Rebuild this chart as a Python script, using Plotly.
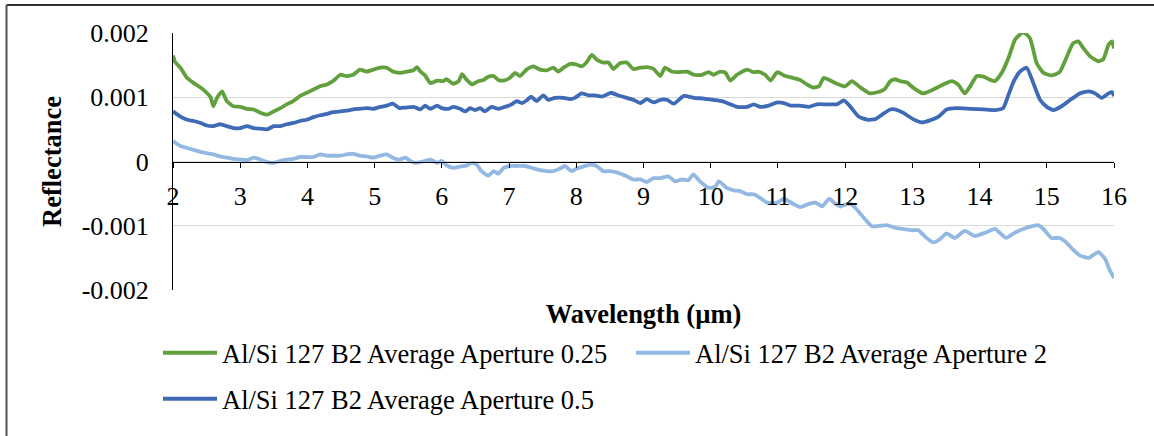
import plotly.graph_objects as go

# ---- Spectra: reflectance vs wavelength (µm) ----
wl_025 = [2.00, 2.03, 2.11, 2.21, 2.31, 2.41, 2.50, 2.56, 2.60, 2.65, 2.70, 2.73, 2.80, 2.90, 3.00,
          3.10, 3.20, 3.30, 3.40, 3.50, 3.60, 3.69, 3.79, 3.89, 3.99, 4.09, 4.19, 4.29, 4.38, 4.49,
          4.58, 4.68, 4.78, 4.88, 4.98, 5.08, 5.18, 5.27, 5.37, 5.48, 5.58, 5.63, 5.68, 5.75, 5.83,
          5.93, 6.02, 6.07, 6.17, 6.25, 6.30, 6.37, 6.45, 6.54, 6.62, 6.69, 6.77, 6.84, 6.92, 7.01,
          7.09, 7.16, 7.26, 7.36, 7.46, 7.56, 7.66, 7.73, 7.81, 7.91, 8.00, 8.08, 8.15, 8.23, 8.30,
          8.40, 8.48, 8.55, 8.65, 8.75, 8.85, 8.95, 9.05, 9.15, 9.25, 9.32, 9.42, 9.52, 9.65, 9.75,
          9.87, 9.97, 10.04, 10.14, 10.22, 10.29, 10.39, 10.54, 10.64, 10.71, 10.81, 10.89, 10.99,
          11.09, 11.23, 11.33, 11.43, 11.53, 11.61, 11.68, 11.78, 11.88, 12.00, 12.10, 12.23, 12.37,
          12.52, 12.60, 12.67, 12.74, 12.82, 12.92, 13.01, 13.16, 13.31, 13.46, 13.59, 13.68, 13.78,
          13.86, 13.96, 14.06, 14.16, 14.23, 14.33, 14.43, 14.53, 14.65, 14.75, 14.85, 14.95, 15.07,
          15.19, 15.29, 15.39, 15.47, 15.54, 15.64, 15.77, 15.84, 15.92, 15.97, 16.00]
refl_025 = [0.00165, 0.00155, 0.00146, 0.00130, 0.00122, 0.00115, 0.00107, 0.00100, 0.00086, 0.00098,
            0.00106, 0.00109, 0.00094, 0.00086, 0.00085, 0.00082, 0.00081, 0.00076, 0.00073, 0.00078,
            0.00083, 0.00089, 0.00094, 0.00102, 0.00107, 0.00112, 0.00117, 0.00120, 0.00125, 0.00135,
            0.00133, 0.00135, 0.00143, 0.00140, 0.00143, 0.00146, 0.00146, 0.00140, 0.00138, 0.00140,
            0.00142, 0.00147, 0.00140, 0.00134, 0.00122, 0.00126, 0.00125, 0.00128, 0.00121, 0.00125,
            0.00136, 0.00127, 0.00120, 0.00125, 0.00127, 0.00132, 0.00133, 0.00127, 0.00126, 0.00130,
            0.00138, 0.00133, 0.00143, 0.00148, 0.00143, 0.00142, 0.00146, 0.00140, 0.00146, 0.00152,
            0.00151, 0.00148, 0.00154, 0.00166, 0.00159, 0.00154, 0.00154, 0.00144, 0.00153, 0.00154,
            0.00144, 0.00146, 0.00147, 0.00144, 0.00133, 0.00146, 0.00140, 0.00139, 0.00140, 0.00135,
            0.00135, 0.00139, 0.00135, 0.00140, 0.00138, 0.00126, 0.00135, 0.00143, 0.00139, 0.00140,
            0.00135, 0.00126, 0.00139, 0.00134, 0.00130, 0.00127, 0.00120, 0.00115, 0.00117, 0.00130,
            0.00126, 0.00121, 0.00117, 0.00125, 0.00115, 0.00106, 0.00109, 0.00114, 0.00125, 0.00128,
            0.00125, 0.00123, 0.00115, 0.00106, 0.00112, 0.00120, 0.00125, 0.00120, 0.00106, 0.00117,
            0.00133, 0.00132, 0.00127, 0.00125, 0.00138, 0.00161, 0.00190, 0.00201, 0.00192, 0.00153,
            0.00138, 0.00134, 0.00139, 0.00161, 0.00184, 0.00187, 0.00177, 0.00164, 0.00156, 0.00159,
            0.00182, 0.00187, 0.00176]

wl_2 = [2.00, 2.11, 2.21, 2.31, 2.41, 2.50, 2.60, 2.70, 2.80, 2.90, 3.00, 3.10, 3.20, 3.30, 3.40,
        3.50, 3.60, 3.69, 3.79, 3.89, 3.99, 4.09, 4.19, 4.29, 4.38, 4.49, 4.58, 4.68, 4.78, 4.88,
        4.98, 5.08, 5.18, 5.27, 5.37, 5.46, 5.53, 5.60, 5.68, 5.75, 5.83, 5.93, 6.00, 6.07, 6.17,
        6.27, 6.37, 6.45, 6.52, 6.59, 6.69, 6.77, 6.84, 6.92, 7.01, 7.11, 7.24, 7.34, 7.44, 7.56,
        7.66, 7.76, 7.83, 7.93, 8.01, 8.10, 8.22, 8.30, 8.40, 8.50, 8.60, 8.75, 8.85, 8.95, 9.05,
        9.15, 9.25, 9.37, 9.47, 9.57, 9.67, 9.74, 9.84, 9.97, 10.07, 10.12, 10.24, 10.34, 10.44,
        10.54, 10.64, 10.74, 10.84, 10.99, 11.09, 11.21, 11.33, 11.46, 11.56, 11.66, 11.76, 11.86,
        11.93, 12.00, 12.08, 12.15, 12.28, 12.40, 12.52, 12.62, 12.74, 12.86, 12.99, 13.09, 13.19,
        13.31, 13.41, 13.51, 13.63, 13.78, 13.93, 14.08, 14.23, 14.30, 14.40, 14.52, 14.65, 14.77,
        14.87, 14.95, 15.07, 15.19, 15.27, 15.39, 15.49, 15.62, 15.77, 15.87, 15.94, 16.00]
refl_2 = [0.00032, 0.00024, 0.00021, 0.00018, 0.00015, 0.00013, 0.00011, 0.00008, 0.00006, 0.00004,
          0.00003, 0.00002, 0.00006, 0.00003, -0.00001, -0.00002, 0.00001, 0.00003, 0.00004, 0.00007,
          0.00007, 0.00007, 0.00011, 0.00009, 0.00009, 0.00009, 0.00011, 0.00012, 0.00009, 0.00008,
          0.00006, 0.00009, 0.00011, 0.00006, 0.00003, 0.00006, 0.00001, -0.00002, -0.00001, 0.00001,
          0.00003, -0.00002, 0.00001, -0.00006, -0.00010, -0.00008, -0.00006, -0.00002, -0.00005,
          -0.00015, -0.00022, -0.00015, -0.00019, -0.00010, -0.00007, -0.00007, -0.00007, -0.00010,
          -0.00013, -0.00015, -0.00015, -0.00011, -0.00007, -0.00015, -0.00011, -0.00008, -0.00005,
          -0.00007, -0.00015, -0.00015, -0.00017, -0.00023, -0.00028, -0.00028, -0.00032, -0.00026,
          -0.00026, -0.00023, -0.00031, -0.00028, -0.00029, -0.00020, -0.00031, -0.00041, -0.00039,
          -0.00031, -0.00041, -0.00045, -0.00046, -0.00051, -0.00051, -0.00057, -0.00064, -0.00064,
          -0.00058, -0.00065, -0.00071, -0.00066, -0.00064, -0.00070, -0.00058, -0.00066, -0.00070,
          -0.00067, -0.00066, -0.00072, -0.00088, -0.00101, -0.00100, -0.00099, -0.00103, -0.00105,
          -0.00107, -0.00107, -0.00117, -0.00126, -0.00121, -0.00112, -0.00119, -0.00108, -0.00116,
          -0.00111, -0.00105, -0.00111, -0.00119, -0.00111, -0.00105, -0.00101, -0.00099, -0.00105,
          -0.00119, -0.00119, -0.00124, -0.00137, -0.00146, -0.00150, -0.00141, -0.00152, -0.00170,
          -0.00181]

wl_05 = [2.00, 2.11, 2.21, 2.31, 2.41, 2.50, 2.60, 2.70, 2.80, 2.90, 3.00, 3.10, 3.20, 3.30, 3.40,
         3.50, 3.60, 3.69, 3.79, 3.89, 3.99, 4.09, 4.19, 4.29, 4.38, 4.49, 4.58, 4.68, 4.78, 4.88,
         4.98, 5.08, 5.18, 5.27, 5.37, 5.47, 5.58, 5.68, 5.75, 5.83, 5.93, 6.00, 6.10, 6.17, 6.27,
         6.35, 6.42, 6.49, 6.57, 6.64, 6.74, 6.84, 6.94, 7.04, 7.11, 7.19, 7.26, 7.33, 7.41, 7.51,
         7.58, 7.68, 7.81, 7.91, 7.98, 8.08, 8.18, 8.28, 8.38, 8.45, 8.52, 8.62, 8.75, 8.85, 8.95,
         9.05, 9.15, 9.25, 9.35, 9.45, 9.60, 9.75, 9.90, 10.04, 10.17, 10.29, 10.39, 10.54, 10.64,
         10.74, 10.86, 10.99, 11.09, 11.19, 11.33, 11.46, 11.58, 11.73, 11.88, 11.98, 12.08, 12.20,
         12.33, 12.45, 12.55, 12.67, 12.74, 12.86, 13.01, 13.14, 13.26, 13.39, 13.51, 13.66, 13.86,
         14.06, 14.23, 14.35, 14.43, 14.51, 14.60, 14.70, 14.80, 14.90, 15.00, 15.10, 15.22, 15.35,
         15.49, 15.62, 15.72, 15.82, 15.92, 15.97, 16.00]
refl_05 = [0.00078, 0.00070, 0.00065, 0.00063, 0.00060, 0.00056, 0.00055, 0.00058, 0.00055, 0.00052,
           0.00052, 0.00055, 0.00052, 0.00051, 0.00050, 0.00055, 0.00055, 0.00058, 0.00060, 0.00063,
           0.00065, 0.00069, 0.00072, 0.00074, 0.00077, 0.00078, 0.00079, 0.00081, 0.00082, 0.00083,
           0.00082, 0.00085, 0.00087, 0.00090, 0.00083, 0.00084, 0.00085, 0.00081, 0.00087, 0.00082,
           0.00087, 0.00083, 0.00082, 0.00085, 0.00082, 0.00078, 0.00083, 0.00080, 0.00083, 0.00078,
           0.00085, 0.00082, 0.00085, 0.00089, 0.00094, 0.00091, 0.00095, 0.00101, 0.00094, 0.00103,
           0.00096, 0.00099, 0.00099, 0.00097, 0.00099, 0.00106, 0.00103, 0.00103, 0.00101, 0.00104,
           0.00107, 0.00103, 0.00099, 0.00096, 0.00091, 0.00097, 0.00092, 0.00096, 0.00096, 0.00090,
           0.00102, 0.00099, 0.00098, 0.00096, 0.00094, 0.00089, 0.00085, 0.00085, 0.00089, 0.00085,
           0.00087, 0.00092, 0.00091, 0.00087, 0.00087, 0.00085, 0.00089, 0.00089, 0.00089, 0.00095,
           0.00085, 0.00070, 0.00065, 0.00066, 0.00073, 0.00081, 0.00081, 0.00076, 0.00066, 0.00061,
           0.00064, 0.00070, 0.00081, 0.00083, 0.00082, 0.00081, 0.00080, 0.00083, 0.00104, 0.00125,
           0.00140, 0.00146, 0.00122, 0.00096, 0.00085, 0.00080, 0.00086, 0.00096, 0.00106, 0.00109,
           0.00106, 0.00099, 0.00106, 0.00108, 0.00102]

series_names = ["Al/Si 127 B2 Average Aperture 0.25",
                "Al/Si 127 B2 Average Aperture 2",
                "Al/Si 127 B2 Average Aperture 0.5"]
series_colors = ["#62A03E", "#93B9E3", "#3E6AB6"]

x_ticks = list(range(2, 17))
y_ticks = [0.002, 0.001, 0, -0.001, -0.002]
y_tick_text = ["0.002", "0.001", "0", "-0.001", "-0.002"]

FONT = "Liberation Serif"
W, H = 1154, 436
L, R, T, B = 173, 40, 33, 146

fig = go.Figure()
traces = [(wl_025, refl_025, "legend"), (wl_2, refl_2, "legend2"), (wl_05, refl_05, "legend3")]
for (xs, ys, lg), name, col in zip(traces, series_names, series_colors):
    fig.add_trace(go.Scatter(
        x=xs, y=ys, mode="lines", name=name, legend=lg,
        line=dict(color=col, width=3.8, shape="spline", smoothing=0.5),
    ))

legend_common = dict(
    xref="container", yref="container", xanchor="left", yanchor="middle",
    font=dict(family=FONT, size=26.5, color="black"),
    bgcolor="rgba(0,0,0,0)", borderwidth=0, itemwidth=54,
    orientation="h",
)
fig.update_layout(
    width=W, height=H,
    margin=dict(l=L, r=R, t=T, b=B, autoexpand=False),
    paper_bgcolor="white", plot_bgcolor="white",
    font=dict(family=FONT, size=26, color="black"),
    showlegend=True,
    legend=dict(x=158 / W, y=1 - 353 / H, **legend_common),
    legend2=dict(x=631 / W, y=1 - 353 / H, **legend_common),
    legend3=dict(x=158 / W, y=1 - 399 / H, **legend_common),
    xaxis=dict(
        range=[2, 16], tickvals=x_ticks, anchor="free", position=0.5,
        showline=True, linecolor="black", linewidth=1,
        ticks="outside", ticklen=5, tickcolor="black", tickwidth=1,
        ticklabelstandoff=6, automargin=False,
        showgrid=False, zeroline=False,
        tickfont=dict(family=FONT, size=26, color="black"),
        title=dict(text="<b>Wavelength (µm)</b>", standoff=108,
                   font=dict(family=FONT, size=26.5, color="black")),
    ),
    yaxis=dict(
        range=[-0.002, 0.002], tickvals=y_ticks, ticktext=y_tick_text,
        showline=True, linecolor="black", linewidth=1, mirror=False,
        ticks="", ticklabelstandoff=18, automargin=False,
        showgrid=True, gridcolor="#D9D9D9", gridwidth=1.3, zeroline=False,
        tickfont=dict(family=FONT, size=26, color="black"),
        title=dict(text="<b>Reflectance</b>", standoff=12,
                   font=dict(family=FONT, size=26.5, color="black")),
    ),
)

# outer frame of the chart area
fig.add_shape(type="line", xref="paper", yref="paper",
              x0=(6.5 - L) / (W - L - R), x1=(W + 5 - L) / (W - L - R),
              y0=(H - B - 5) / (H - T - B), y1=(H - B - 5) / (H - T - B),
              line=dict(color="#303030", width=2))
fig.add_shape(type="line", xref="paper", yref="paper",
              x0=(6.5 - L) / (W - L - R), x1=(6.5 - L) / (W - L - R),
              y0=(H - B - 5) / (H - T - B), y1=-(B + 5) / (H - T - B),
              line=dict(color="#505050", width=2))

fig.write_html("out.html")
